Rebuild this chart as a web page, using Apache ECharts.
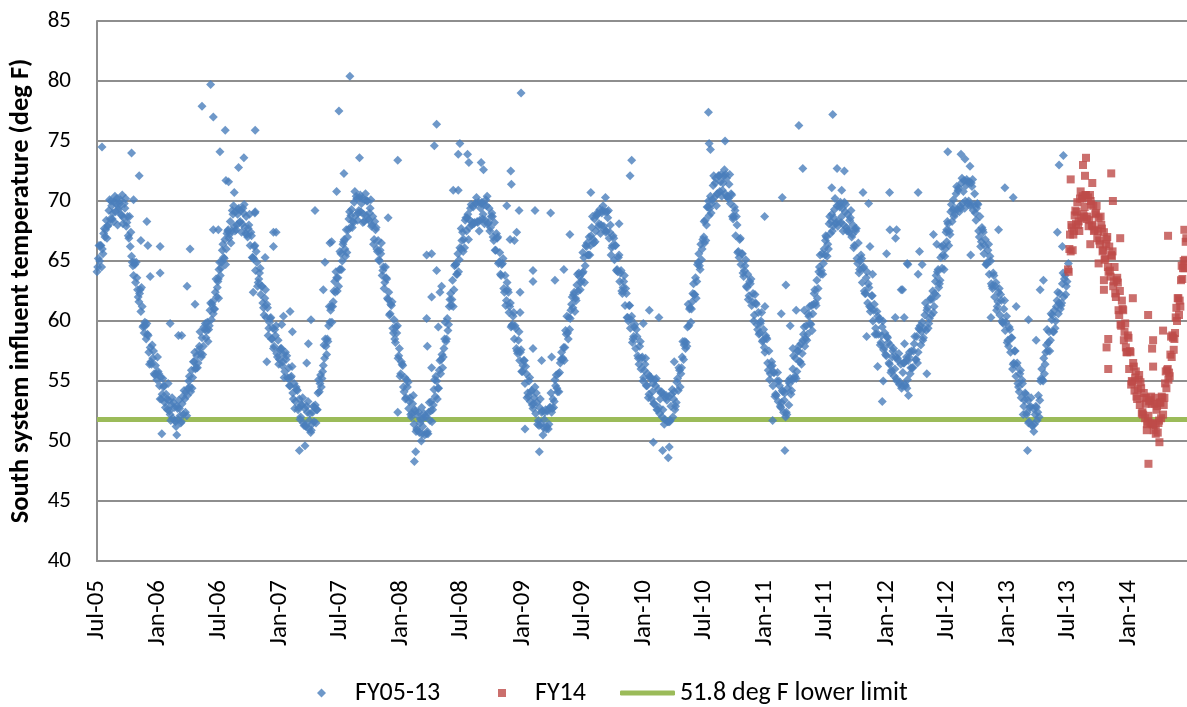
<!DOCTYPE html>
<html><head><meta charset="utf-8">
<script src="https://cdn.jsdelivr.net/npm/echarts@6/dist/echarts.min.js"></script>
<style>html,body{margin:0;padding:0;background:#fff}#c{width:1187px;height:707px}</style>
</head><body><div id="c"></div>
<script>
// ---- tick labels (days since 1 Jul 2005) ----
const tickLabels = ['Jul-05','Jan-06','Jul-06','Jan-07','Jul-07','Jan-08','Jul-08','Jan-09','Jul-09','Jan-10','Jul-10','Jan-11','Jul-11','Jan-12','Jul-12','Jan-13','Jul-13','Jan-14'];
const tickDays = [0,184,365,549,730,914,1096,1280,1461,1645,1826,2010,2191,2375,2557,2741,2922,3106];
const axisMaxDay = 3280;
const yTicks = {min: 40, max: 85, step: 5};
const lowerLimit = 51.8;
const seriesNames = ['FY05-13', 'FY14', '51.8 deg F lower limit'];

// ---- readings from each fiscal-year start: set A every 4 days; sets B, C every 8 days (offset 2 and 6 days) ----
const stepA = 4, stepBC = 8, offsetB = 2, offsetC = 6;
const fyStartDays = [0, 365, 730, 1096, 1461, 1826, 2191, 2557];
const fy14StartDay = 2922;

const fy06 = [64.1,65.2,65.0,66.3,66.0,67.3,67.0,68.4,67.9,69.2,68.5,69.6,69.0,69.9,69.1,70.2,69.3,69.8,68.9,70.5,68.6,69.4,67.9,68.7,66.9,66.2,65.4,64.6,64.9,63.2,63.6,62.0,62.3,60.8,61.2,59.6,59.9,58.5,58.9,57.4,57.8,56.4,56.9,55.6,56.3,55.1,55.8,54.6,55.3,53.9,54.5,53.2,53.9,52.6,53.4,52.2,53.0,51.9,52.8,51.6,52.9,51.8,52.7,51.5,53.1,52.2,53.5,54.1,53.8,55.0,54.5,55.9,55.3,56.6,56.0,57.1,56.5,57.9,57.3,58.6,57.9,59.3,58.6,59.9,59.3,60.9,60.1,61.6,61.0,62.4,62.0,63.3];
const fy07 = [63.5,64.9,64.4,65.9,65.3,66.8,66.0,67.5,66.9,68.3,67.5,68.9,67.9,69.1,68.0,69.3,68.2,69.2,68.1,69.0,67.8,68.7,67.0,68.0,66.3,67.1,65.3,66.2,64.2,64.9,63.2,64.0,62.2,62.9,61.1,61.9,60.3,61.1,59.4,60.2,58.5,59.4,57.9,58.8,57.3,58.4,56.8,57.7,56.3,57.2,55.8,56.8,55.3,56.1,54.6,55.4,54.0,54.8,53.3,54.3,52.6,53.5,52.0,53.0,51.5,52.7,51.2,52.4,51.0,52.3,50.9,52.4,51.6,53.0,52.6,54.0,54.1,55.5,55.2,56.3,56.9,57.9,58.5,59.6,59.9,61.2,61.2,62.5,62.4,63.6,63.6];
const fy08 = [64.3,65.6,65.0,66.6,66.0,67.6,67.0,68.5,67.8,69.3,68.3,69.9,68.8,70.2,69.0,70.3,69.1,70.2,68.9,70.1,68.8,70.0,68.4,69.4,67.9,68.7,66.8,67.6,66.0,66.7,65.0,65.6,63.8,64.5,63.2,63.6,61.9,62.4,60.6,61.3,59.4,60.1,58.2,59.0,56.9,57.7,55.6,56.4,54.5,55.3,53.6,54.5,52.7,53.6,52.0,53.1,51.4,52.5,51.0,52.1,50.7,51.8,50.6,51.9,50.5,52.0,50.8,52.4,51.7,53.3,52.6,54.3,53.7,55.0,54.4,55.9,55.6,57.2,57.0,58.5,58.3,60.2,59.7,61.8,61.3,63.4,62.6,64.7,63.9,65.6,65.1];
const fy09 = [66.0,67.4,66.8,68.4,67.5,68.9,67.8,69.4,68.0,69.5,68.2,69.8,68.3,69.9,68.4,69.8,68.5,69.7,68.4,69.6,68.1,69.4,67.8,69.0,67.0,68.2,65.9,66.9,64.8,65.7,63.8,64.8,62.7,63.8,61.7,62.6,60.7,61.5,59.6,60.4,58.5,59.4,57.5,58.4,56.7,57.6,55.8,56.7,54.8,55.6,54.0,55.0,53.3,54.2,52.7,53.6,52.3,53.2,51.7,52.8,51.4,52.5,51.1,52.4,51.0,52.5,51.4,52.8,52.4,53.5,53.3,54.6,54.4,55.6,55.7,56.8,56.8,57.8,57.8,58.9,59.0,60.3,60.2,61.4,61.1,62.4,61.9,63.0,62.5,63.7,63.2];
const fy10 = [64.0,65.3,64.6,66.2,65.5,67.0,66.3,67.8,66.8,68.5,67.5,69.0,67.9,69.3,68.0,69.2,67.9,69.1,67.5,68.6,66.9,68.0,66.1,67.1,65.1,66.3,64.3,65.3,63.3,64.2,62.3,63.3,61.3,62.3,60.3,61.3,59.4,60.4,58.5,59.5,57.7,58.7,56.9,57.9,56.0,57.0,55.3,56.4,54.6,55.6,53.9,55.2,53.5,54.8,53.1,54.6,52.6,54.3,52.3,54.0,52.0,53.9,51.8,53.8,51.6,53.7,51.7,53.9,52.0,54.1,52.9,54.9,54.2,55.9,55.6,57.0,56.8,58.3,58.2,59.5,59.6,61.1,61.0,62.3,62.2,63.6,63.3,64.9,64.6,66.4,66.0];
const fy11 = [67.0,68.4,68.0,69.5,68.8,70.4,69.8,71.3,70.3,71.9,70.6,72.1,70.8,72.2,70.9,72.1,70.6,71.9,70.3,71.4,69.8,70.5,68.5,69.5,67.1,68.0,65.8,66.8,64.7,65.6,63.7,64.6,62.9,63.9,62.1,63.1,61.3,62.3,60.5,61.5,59.7,60.7,59.0,60.0,58.3,59.3,57.4,58.6,56.5,57.5,55.6,56.6,54.6,55.7,53.9,55.0,53.3,54.6,52.8,54.2,52.4,54.0,52.4,54.4,53.0,55.2,54.2,56.0,55.2,56.9,55.8,57.5,56.6,58.1,57.3,58.9,57.9,59.6,58.9,60.4,59.8,61.3,60.6,62.3,61.5,63.4,62.7,64.5,63.9,65.6,64.8];
const fy12 = [65.5,67.0,66.4,68.1,67.3,68.9,67.9,69.3,68.1,69.6,68.3,69.5,68.2,69.4,68.0,69.1,67.8,68.9,67.4,68.6,67.0,68.0,66.3,67.5,65.2,66.5,64.3,65.5,63.2,64.5,62.3,63.6,61.5,62.8,60.8,62.1,60.0,61.4,59.4,60.8,58.9,60.2,58.2,59.5,57.6,59.0,57.1,58.6,56.5,58.0,55.9,57.5,55.4,57.0,55.0,56.7,54.7,56.4,54.6,56.5,54.7,56.7,55.1,57.0,55.6,57.5,56.1,58.1,56.8,58.7,57.4,59.3,58.0,59.9,58.6,60.5,59.2,61.1,59.8,61.8,60.5,62.5,61.2,63.3,62.1,64.3,63.1,65.3,64.4,66.3,65.4,67.4];
const fy13 = [66.6,68.1,67.5,69.1,68.3,70.1,68.9,70.6,69.3,71.1,69.6,71.5,69.8,71.7,70.0,71.8,69.8,71.6,69.7,71.2,69.2,70.6,68.4,69.8,67.5,68.7,66.6,67.6,65.6,66.8,64.7,65.9,63.9,65.0,62.9,64.0,62.0,63.2,61.2,62.4,60.5,61.7,59.9,61.0,59.2,60.4,58.4,59.5,57.4,58.6,56.4,57.5,55.4,56.5,54.5,55.6,53.6,54.8,52.9,54.0,52.2,53.4,51.6,52.9,51.3,52.7,51.4,52.9,51.7,53.8,53.4,55.2,55.1,56.9,56.4,58.0,57.5,59.1,58.4,60.1,59.1,60.9,60.0,61.7,60.6,62.3,61.3,63.1,62.0,63.8,62.9];
const fy14 = [64.3,66.0,65.8,67.8,67.2,68.8,68.1,69.9,68.3,70.2,68.6,70.4,68.7,70.5,68.5,70.3,68.4,70.0,68.0,69.6,67.6,69.0,66.9,68.6,66.4,68.0,65.8,67.4,65.2,66.8,64.5,66.2,63.7,65.4,62.9,64.5,62.0,63.6,60.9,62.5,59.6,61.0,58.4,59.8,57.4,58.8,56.0,57.4,55.0,56.5,54.2,55.8,53.5,55.1,53.0,54.4,52.4,54.0,51.9,53.6,51.6,53.3,51.5,53.1,51.4,53.1,51.3,52.9,51.5,53.2,51.9,53.6,53.0,54.8,54.4,56.0,55.7,57.2,57.0,58.6,58.5,60.3,60.0,61.9,61.7,63.4,63.5,65.0,65.1,66.9];

const fy06b = [64.5,66.3,65.6,67.6,68.0,70.0,68.3,69.8,69.5,68.8,69.8,68.2,68.7,64.9,64.7,62.6,62.6,59.5,59.6,58.8,56.6,57.5,55.6,55.6,53.5,54.6,53.5,52.5,53.6,51.7,52.7,52.1,53.7,52.4,54.4,54.1,56.6,56.1,57.6,57.0,59.5,59.2,59.6,61.4,61.0,62.8];
const fy07b = [64.3,64.9,65.2,67.3,67.2,69.2,67.5,68.9,68.3,69.4,67.3,67.7,67.4,65.2,65.8,63.5,62.9,60.5,61.4,59.9,58.5,59.3,57.0,57.6,56.6,57.4,55.2,55.3,53.5,54.5,52.8,53.0,51.3,52.9,51.7,51.4,52.8,52.6,54.8,55.8,58.5,58.3,60.9,61.6,64.1,62.9];
const fy08b = [64.3,66.4,65.4,67.6,68.8,68.2,70.4,69.2,69.8,68.3,70.0,69.0,68.0,68.3,65.8,65.9,64.2,64.5,61.8,61.4,59.0,59.5,57.1,56.6,54.1,55.1,53.3,52.3,52.6,50.9,51.5,51.2,52.1,50.6,52.5,53.0,55.4,54.4,56.8,57.7,58.5,61.2,61.8,64.6,63.9,66.1];
const fy09b = [66.7,66.1,68.6,68.4,68.2,69.8,68.2,69.4,68.9,70.1,68.2,68.7,66.7,67.3,64.9,64.7,62.4,63.2,61.2,59.7,59.6,57.3,57.4,56.3,56.2,53.7,54.1,53.1,54.0,51.3,52.4,51.8,51.2,52.8,52.7,55.1,54.1,56.5,56.9,59.2,58.5,60.9,62.2,61.7,64.0,63.4];
const fy10b = [64.1,66.3,65.5,67.1,66.5,68.8,68.1,69.0,67.6,69.1,67.4,66.3,66.3,64.1,64.0,62.8,62.7,60.0,60.1,58.7,59.3,56.4,56.9,55.9,54.6,55.4,54.1,55.1,52.6,53.5,52.6,53.6,51.6,52.9,53.5,53.2,56.1,56.1,58.0,57.9,61.0,61.6,62.2,64.7,64.3,66.8];
const fy11b = [66.5,69.5,69.4,70.1,71.5,70.6,71.6,71.5,72.2,70.2,70.6,68.7,68.7,65.3,65.6,64.2,62.8,63.3,61.6,62.2,59.3,59.8,58.4,58.8,55.9,56.2,55.7,53.8,55.0,53.2,53.4,52.2,54.8,55.1,55.4,57.5,56.6,58.4,58.5,60.6,59.7,61.4,61.3,64.1,64.2,66.0];
const fy12b = [67.1,66.0,68.3,68.6,68.2,69.7,68.7,69.9,67.5,68.4,67.2,67.7,64.8,65.0,64.4,62.3,63.1,61.1,60.9,58.9,60.1,58.8,57.8,58.7,56.4,57.0,56.0,56.9,54.9,55.7,54.6,56.7,56.1,57.5,56.8,59.4,59.1,59.4,60.9,60.2,61.8,62.3,64.1,63.4,65.5,66.0];
const fy13b = [68.3,67.2,69.3,69.3,70.9,69.4,70.8,71.3,70.0,71.5,69.7,69.4,67.0,67.8,66.3,64.9,65.4,62.7,62.9,61.6,62.2,59.8,59.9,57.9,58.6,56.5,56.3,54.1,55.1,53.4,52.4,52.8,51.3,52.2,52.4,55.0,55.0,57.4,58.2,60.6,59.1,61.2,61.5,61.5,63.5,63.3];
const fy14b = [64.1,68.0,67.5,69.1,67.5,70.2,69.5,68.7,70.5,67.9,68.9,67.5,68.7,65.9,66.4,64.1,65.5,63.3,63.4,60.5,61.7,59.1,57.4,57.5,54.9,55.3,54.3,54.9,52.2,53.1,52.1,53.7,50.9,52.6,51.7,53.7,53.6,55.9,55.4,58.8,59.0,61.9,61.2,64.4,66.6];

const fy06c = [66.3,64.5,67.7,66.9,70.1,68.5,70.4,68.0,70.1,68.1,70.2,67.1,67.4,63.8,64.9,61.6,62.8,59.0,59.8,56.4,58.0,55.5,57.0,53.5,55.2,52.8,54.8,51.7,53.2,51.2,53.4,51.6,54.2,52.1,55.4,54.4,57.4,56.1,59.1,57.2,59.8,58.3,61.5,60.6,63.5,61.9];
const fy07c = [63.8,66.4,64.7,67.6,66.5,69.6,67.6,69.4,67.4,69.7,67.2,68.9,65.3,66.3,62.9,64.4,61.5,62.6,58.8,60.3,57.7,59.6,56.4,57.7,55.3,57.1,54.6,56.2,52.7,54.2,51.8,53.6,51.3,53.3,50.7,52.9,51.5,55.1,54.5,58.0,57.2,61.2,59.9,63.3,62.5,65.8];
const fy08c = [64.3,66.8,65.7,69.1,67.8,70.8,68.4,70.5,68.2,70.6,68.5,70.1,66.4,67.8,65.1,66.5,62.7,63.5,60.5,61.6,58.5,59.6,55.4,56.3,53.5,54.9,52.2,53.8,50.8,52.4,50.0,52.3,50.6,53.2,51.6,55.1,53.5,56.7,56.1,59.9,59.2,62.3,61.2,64.7,64.1,67.7];
const fy09c = [65.8,68.6,66.8,69.7,68.1,70.3,67.5,69.9,68.1,70.4,67.5,68.7,65.9,67.0,63.9,65.2,61.3,62.4,59.5,60.7,57.7,59.1,55.8,56.7,53.6,55.3,53.0,54.5,51.4,53.5,50.5,52.6,51.0,54.0,52.8,55.5,54.1,57.4,56.7,60.4,59.3,62.0,60.8,63.9,62.6,65.7];
const fy10c = [63.2,66.5,65.5,68.7,66.6,68.9,67.3,69.6,67.4,69.2,65.5,66.9,64.2,65.5,62.5,63.8,60.3,61.3,58.2,59.7,57.1,58.3,55.0,56.9,53.6,55.3,53.1,55.2,52.8,54.1,51.4,53.4,51.6,54.3,52.6,55.2,54.5,58.3,57.7,61.4,59.9,63.1,61.9,65.6,65.1,68.3];
const fy11c = [66.7,70.0,69.0,72.1,69.6,72.1,70.4,72.6,70.4,72.2,68.7,69.2,65.7,66.9,64.0,65.1,61.8,63.5,60.0,61.4,58.9,60.7,57.8,58.5,55.1,56.3,53.7,55.7,52.9,54.1,52.0,55.0,53.9,57.1,55.2,57.9,56.4,59.5,58.4,61.2,59.2,62.6,61.9,65.5,63.9,66.7];
const fy12c = [65.4,68.7,67.5,70.2,67.9,69.9,67.5,69.7,67.6,69.2,66.1,67.7,64.0,65.2,62.5,64.1,61.2,62.1,58.9,60.4,58.0,60.0,57.2,58.2,55.7,57.7,55.2,57.3,54.4,56.5,54.4,57.4,56.1,58.7,56.5,59.6,58.4,61.5,59.4,61.9,60.7,63.8,62.8,66.2,64.3,67.6];
const fy13c = [66.3,69.7,68.7,71.2,69.1,71.9,69.4,71.6,69.6,71.8,69.0,69.7,66.2,67.4,64.7,66.4,63.1,63.8,60.9,62.7,60.0,61.7,58.2,59.3,56.0,57.5,54.8,55.9,52.2,53.9,51.5,53.6,50.8,52.8,52.0,56.0,55.6,59.3,57.5,60.5,59.4,62.4,61.0,64.0,62.2,64.8];
const fy14c = [67.2,65.9,69.2,68.0,70.8,68.9,70.5,67.9,69.7,67.5,69.6,66.7,67.7,65.1,67.0,64.2,65.8,62.3,63.2,59.7,60.9,57.8,58.6,54.7,56.2,53.7,55.5,52.3,53.6,51.4,53.4,51.4,53.6,50.7,53.2,52.2,55.8,55.1,58.7,57.6,61.1,60.5,64.6,64.4];

// ---- isolated readings [day, deg F] ----
const fy0513Outliers = [[15,74.5],[104,74.0],[127,72.1],[316,77.9],[342,79.7],[350,77.0],[386,75.9],[370,74.1],[476,75.9],[442,73.6],[426,72.8],[388,71.7],[396,71.6],[413,70.7],[761,80.4],[728,77.5],[790,73.6],[743,72.3],[721,70.8],[905,73.4],[656,69.2],[150,68.3],[110,70.1],[476,69.1],[539,67.4],[876,68.6],[706,66.6],[132,66.7],[190,66.2],[153,66.3],[280,66.0],[271,62.9],[295,61.4],[220,59.8],[245,58.8],[255,58.8],[160,63.7],[190,64.0],[350,67.6],[365,67.6],[531,67.4],[531,66.2],[475,69.0],[506,65.3],[470,62.4],[561,60.4],[581,60.8],[556,59.7],[588,59.1],[511,56.6],[636,58.1],[631,56.5],[644,60.1],[686,64.9],[681,62.6],[701,66.5],[195,50.6],[240,50.5],[609,49.2],[626,49.6],
[1276,79.0],[1022,76.4],[1015,74.6],[1092,74.8],[1087,73.9],[1115,73.9],[1119,73.2],[1156,73.2],[1163,72.6],[1245,72.5],[1247,71.4],[1609,73.4],[1604,72.1],[1486,70.7],[1530,70.3],[1072,70.9],[1087,70.9],[1233,69.6],[1270,69.2],[1318,69.2],[1365,69.0],[1423,67.2],[1571,68.1],[992,65.5],[1007,65.6],[1022,64.2],[1037,62.9],[1032,62.4],[1007,62.0],[992,60.2],[994,57.9],[1007,56.1],[1027,59.5],[1263,67.4],[1243,66.8],[1256,66.7],[1312,64.2],[1312,63.3],[1378,63.4],[1405,64.3],[1273,62.4],[1273,60.7],[1312,57.7],[1338,56.7],[1368,57.0],[1288,51.0],[905,52.4],[955,48.3],[959,49.1],[1331,49.1],[977,52.8],
[1840,77.4],[2214,77.2],[2112,76.3],[2124,72.7],[2227,72.7],[2249,72.5],[1890,75.0],[1842,74.8],[1846,74.3],[2211,71.1],[2241,70.9],[2062,70.3],[2305,70.7],[2385,70.7],[2471,70.7],[2322,69.8],[2009,68.7],[2386,67.6],[2406,67.6],[2403,66.9],[2376,65.6],[2326,66.2],[2440,64.7],[2334,63.9],[2420,62.6],[2073,63.0],[1662,60.9],[1691,60.3],[1644,59.8],[2059,60.6],[2104,60.9],[2128,60.9],[2086,59.6],[2094,57.7],[2010,61.2],[2402,60.3],[2429,60.3],[2316,58.7],[2349,56.2],[2366,55.0],[2363,53.3],[1737,56.6],[1674,49.9],[1702,49.2],[1719,48.6],[1722,49.5],[2070,49.2],[2033,51.7],
[2560,74.1],[2600,73.9],[2612,73.5],[2627,72.9],[2732,71.1],[2757,70.3],[2908,73.8],[2895,73.0],[2713,67.6],[2629,65.5],[2475,65.8],[2517,67.2],[2527,66.4],[2890,67.4],[2905,66.2],[2438,64.8],[2483,64.7],[2471,63.9],[2424,62.6],[2848,63.4],[2838,62.6],[2803,60.1],[2826,58.4],[2766,61.2],[2690,60.3],[2497,55.6],[2430,58.1],[2436,57.0],[2800,49.2],[2442,53.8]];
const fy14Outliers = [[2976,73.6],[2967,73.0],[3052,72.3],[2930,71.8],[2973,72.1],[2995,71.5],[3057,70.0],[3079,66.9],[2989,66.4],[3014,64.8],[3030,63.4],[3030,62.6],[3117,61.9],[3163,60.5],[3043,58.5],[3038,57.8],[3043,56.0],[3223,67.1],[3272,67.6],[3178,58.4],[3175,57.7],[3208,59.2],[3164,48.1],[3197,49.9],[3186,50.6],[3159,50.9],[3178,56.2]];

// ---- assemble ----
const setA = [fy06, fy07, fy08, fy09, fy10, fy11, fy12, fy13];
const setB = [fy06b, fy07b, fy08b, fy09b, fy10b, fy11b, fy12b, fy13b];
const setC = [fy06c, fy07c, fy08c, fy09c, fy10c, fy11c, fy12c, fy13c];
const toPoints = (vals, start, step) => vals.map((v, i) => [start + step * i, v]);
let blueData = [];
fyStartDays.forEach((s, k) => {
  blueData = blueData.concat(toPoints(setA[k], s, stepA), toPoints(setB[k], s + offsetB, stepBC), toPoints(setC[k], s + offsetC, stepBC));
});
blueData = blueData.concat(fy0513Outliers);
const redData = toPoints(fy14, fy14StartDay, stepA)
  .concat(toPoints(fy14b, fy14StartDay + offsetB, stepBC))
  .concat(toPoints(fy14c, fy14StartDay + offsetC, stepBC))
  .concat(fy14Outliers);
const limitData = [[0, lowerLimit], [axisMaxDay, lowerLimit]];

const FONT = 'Carlito, Lato, sans-serif';
const GRID = '#8e8e8e';
const chart = echarts.init(document.getElementById('c'), null, {renderer: 'canvas'});
const legendBase = {top: 675, itemGap: 0, selectedMode: false};
const legendText = pad => ({fontFamily: FONT, fontSize: 26, color: '#000', padding: [0, 0, 0, pad]});
chart.setOption({
  animation: false,
  backgroundColor: '#fff',
  grid: {left: 97, right: 0, top: 21, bottom: 146, containLabel: false},
  xAxis: {
    type: 'value', min: 0, max: axisMaxDay,
    axisLine: {show: true, lineStyle: {color: GRID, width: 2}},
    axisTick: {show: false},
    splitLine: {show: false},
    axisLabel: {
      customValues: tickDays, rotate: 90, margin: 19,
      fontFamily: FONT, fontSize: 25, color: '#000',
      formatter: v => { const i = tickDays.indexOf(v); return i >= 0 ? tickLabels[i] : ''; }
    }
  },
  yAxis: {
    type: 'value', min: yTicks.min, max: yTicks.max, interval: yTicks.step,
    name: 'South system influent temperature (deg F)',
    nameLocation: 'middle', nameRotate: 90, nameGap: 62,
    nameTextStyle: {fontFamily: FONT, fontSize: 26.5, fontWeight: 'bold', color: '#000'},
    axisLine: {show: true, lineStyle: {color: GRID, width: 2}},
    axisTick: {show: false},
    splitLine: {show: true, lineStyle: {color: GRID, width: 2}},
    axisLabel: {margin: 26, fontFamily: FONT, fontSize: 23, color: '#000'}
  },
  legend: [
    Object.assign({}, legendBase, {left: 312, data: [seriesNames[0]], itemWidth: 9, itemHeight: 9, textStyle: legendText(24)}),
    Object.assign({}, legendBase, {left: 493, data: [seriesNames[1]], itemWidth: 8, itemHeight: 8, textStyle: legendText(24)}),
    Object.assign({}, legendBase, {left: 615, data: [{name: seriesNames[2], icon: 'roundRect'}], itemWidth: 55, itemHeight: 5, textStyle: legendText(0)})
  ],
  series: [
    {name: seriesNames[2], type: 'line', data: limitData, symbol: 'none', z: 1,
     color: '#9BBB59', lineStyle: {color: '#9BBB59', width: 5}},
    {name: seriesNames[0], type: 'scatter', data: blueData, symbol: 'diamond', symbolSize: 9, z: 2,
     itemStyle: {color: '#4A7EBB'}},
    {name: seriesNames[1], type: 'scatter', data: redData, symbol: 'rect', symbolSize: 8, z: 3,
     itemStyle: {color: '#BE4B48'}}
  ]
});
</script></body></html>
